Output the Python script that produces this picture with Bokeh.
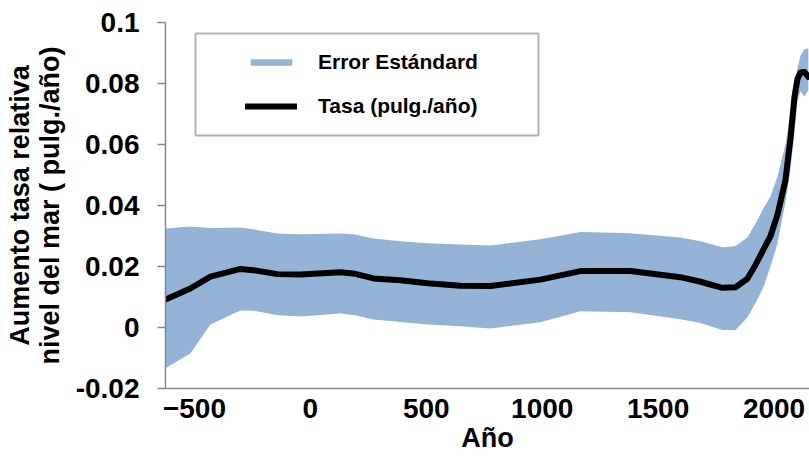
from bokeh.plotting import figure
from bokeh.models import Range1d, FixedTicker, Legend, LegendItem, BoxAnnotation, ColumnDataSource
from bokeh.embed import file_html
from bokeh.resources import INLINE

# Data
years = [-625, -518, -431, -302, -246, -142, -43, 129, 194, 272, 388, 505, 647, 777,
         992, 1165, 1381, 1596, 1683, 1777, 1834, 1885, 1920, 1954, 1985, 2015,
         2049, 2071, 2088, 2101, 2114, 2131, 2148]
rate = [0.0092, 0.0128, 0.0167, 0.0192, 0.0188, 0.0175, 0.0174, 0.0181, 0.0176, 0.0161,
        0.0155, 0.0145, 0.0137, 0.0136, 0.0157, 0.0185, 0.0185, 0.0165, 0.0150, 0.0130,
        0.0132, 0.0160, 0.0205, 0.0255, 0.0300, 0.0370, 0.0482, 0.0620, 0.0755, 0.0815,
        0.0836, 0.0838, 0.0822]
upper = [0.0325, 0.0331, 0.0326, 0.0328, 0.0322, 0.0308, 0.0306, 0.0308, 0.0305, 0.0292,
         0.0283, 0.0276, 0.0272, 0.0269, 0.0289, 0.0313, 0.0309, 0.0295, 0.0283, 0.0263,
         0.0267, 0.0295, 0.0340, 0.0390, 0.0430, 0.0495, 0.0600, 0.0700, 0.0790, 0.0850,
         0.0890, 0.0912, 0.0915]
lower = [-0.0134, -0.0085, 0.0010, 0.0056, 0.0055, 0.0040, 0.0036, 0.0046, 0.0040, 0.0026,
         0.0018, 0.0010, 0.0004, -0.0003, 0.0017, 0.0053, 0.0050, 0.0027, 0.0015, -0.0008,
         -0.0008, 0.0033, 0.0080, 0.0131, 0.0200, 0.0276, 0.0410, 0.0520, 0.0640, 0.0740,
         0.0775, 0.0757, 0.0778]

x_ticks = [-500, 0, 500, 1000, 1500, 2000]
y_ticks = [-0.02, 0, 0.02, 0.04, 0.06, 0.08, 0.1]
y_tick_labels = ["-0.02", "0", "0.02", "0.04", "0.06", "0.08", "0.1"]

FONT = "Liberation Sans"
AXIS_GRAY = "#868686"

src = ColumnDataSource(dict(x=years, rate=rate, upper=upper, lower=lower))

p = figure(width=809, height=458, output_backend="svg", toolbar_location=None,
           x_range=Range1d(-625, 2153), y_range=Range1d(-0.02, 0.1),
           min_border_left=165, min_border_right=0, min_border_top=22, min_border_bottom=70)
p.outline_line_color = None
p.grid.grid_line_color = None
p.background_fill_color = "white"
p.border_fill_color = "white"

band = p.varea(x="x", y1="lower", y2="upper", source=src, fill_color="#95B3D7")
ln = p.line(x="x", y="rate", source=src, line_color="black", line_width=6,
            line_join="round", line_cap="round")

# X axis
xa = p.xaxis[0]
xa.ticker = FixedTicker(ticks=x_ticks)
xa.axis_line_color = AXIS_GRAY
xa.axis_line_width = 1.5
xa.major_tick_line_color = None
xa.minor_tick_line_color = None
xa.major_tick_out = 0
xa.major_tick_in = 0
xa.major_label_standoff = 10
xa.major_label_text_font = FONT
xa.major_label_text_font_style = "bold"
xa.major_label_text_font_size = "28px"
xa.major_label_text_color = "black"
xa.axis_label = "Año"
xa.axis_label_text_font = FONT
xa.axis_label_text_font_style = "bold"
xa.axis_label_text_font_size = "27px"
xa.axis_label_text_color = "black"
xa.axis_label_standoff = 2

# Y axis
ya = p.yaxis[0]
ya.ticker = FixedTicker(ticks=y_ticks)
ya.major_label_overrides = {t: l for t, l in zip(y_ticks, y_tick_labels)}
ya.axis_line_color = AXIS_GRAY
ya.axis_line_width = 1.5
ya.major_tick_line_color = AXIS_GRAY
ya.major_tick_line_width = 1.5
ya.major_tick_out = 8
ya.major_tick_in = 0
ya.minor_tick_line_color = None
ya.major_label_standoff = 18
ya.major_label_text_font = FONT
ya.major_label_text_font_style = "bold"
ya.major_label_text_font_size = "28px"
ya.major_label_text_color = "black"
ya.axis_label = "Aumento tasa relativa\nnivel del mar ( pulg./año)"
ya.axis_label_text_font = FONT
ya.axis_label_text_font_style = "bold"
ya.axis_label_text_font_size = "27px"
ya.axis_label_text_line_height = 1.0
ya.axis_label_text_color = "black"
ya.axis_label_standoff = 8

# Legend box and legend
box = BoxAnnotation(left=30, right=373, bottom=253, top=355,
                    left_units="screen", right_units="screen",
                    top_units="screen", bottom_units="screen",
                    fill_color="white", fill_alpha=1.0,
                    line_color="black", line_width=2)
p.add_layout(box)

legend = Legend(items=[LegendItem(label="Error Estándard", renderers=[band]),
                       LegendItem(label="Tasa (pulg./año)", renderers=[ln])],
                location=(80, 270), orientation="vertical",
                border_line_color=None, background_fill_alpha=0,
                padding=10, spacing=20, glyph_width=52, glyph_height=8,
                label_height=22, label_standoff=21,
                label_text_font=FONT, label_text_font_style="bold",
                label_text_font_size="21px", label_text_color="black")
p.add_layout(legend)

open("out.html", "w").write(file_html(p, INLINE))
